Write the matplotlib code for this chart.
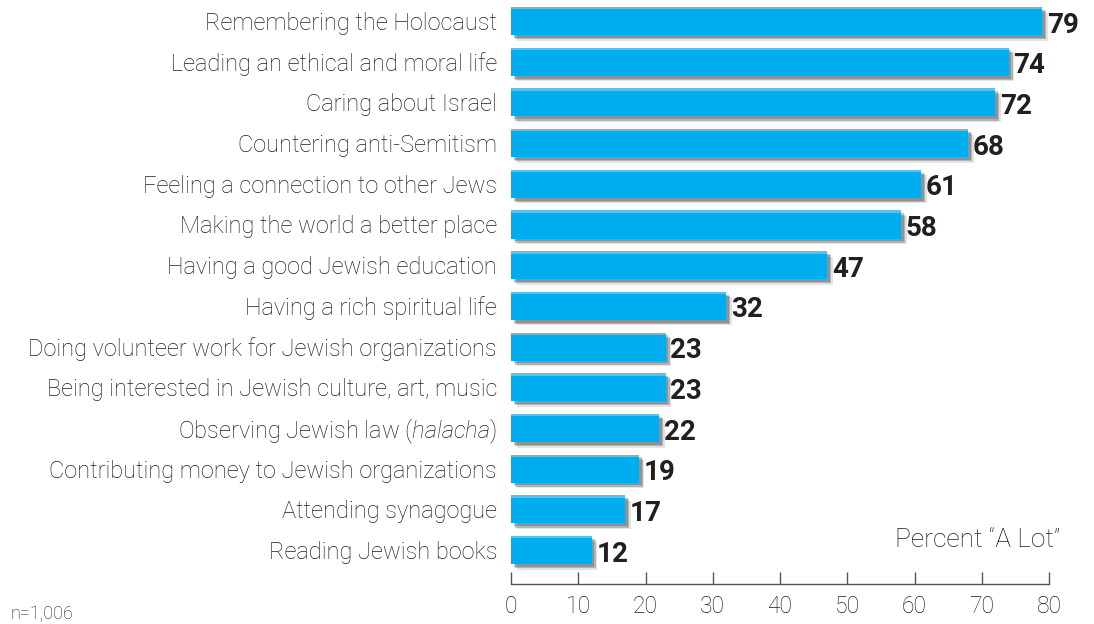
import numpy as np
import matplotlib.pyplot as plt
import matplotlib.patheffects as pe

plt.rcParams['font.family'] = ['Roboto', 'DejaVu Sans']
plt.rcParams['mathtext.fontset'] = 'custom'
plt.rcParams['mathtext.rm'] = 'Roboto:light'
plt.rcParams['mathtext.it'] = 'Roboto:italic:light'

labels = ["Remembering the Holocaust",
          "Leading an ethical and moral life",
          "Caring about Israel",
          "Countering anti-Semitism",
          "Feeling a connection to other Jews",
          "Making the world a better place",
          "Having a good Jewish education",
          "Having a rich spiritual life",
          "Doing volunteer work for Jewish organizations",
          "Being interested in Jewish culture, art, music",
          "Observing Jewish law ($\\mathit{halacha}$)",
          "Contributing money to Jewish organizations",
          "Attending synagogue",
          "Reading Jewish books"]
values = [79, 74, 72, 68, 61, 58, 47, 32, 23, 23, 22, 19, 17, 12]
xticks = [0, 10, 20, 30, 40, 50, 60, 70, 80]

blue = '#00aeef'
text_col = '#1e1e1e'

fig = plt.figure(figsize=(10.94, 6.24), dpi=100)
ax = fig.add_axes([511 / 1094, 40 / 624, 538 / 1094, 584 / 624])

y = np.arange(len(values))
bars = ax.barh(y, values, height=0.69, color=blue, zorder=3)
for b in bars:
    b.set_path_effects([pe.SimplePatchShadow(offset=(4, -4), shadow_rgbFace='#444444', alpha=0.15),
                        pe.SimplePatchShadow(offset=(3, -3), shadow_rgbFace='#444444', alpha=0.3),
                        pe.SimplePatchShadow(offset=(2, -2), shadow_rgbFace='#444444', alpha=0.3),
                        pe.Normal()])
# faint highlight along top edge of each bar
ax.barh(y - 0.69 / 2 + 0.03, values, height=0.06, color='#4cc6f4', zorder=4)

for yi, v in zip(y, values):
    ax.text(v + 0.7, yi + 0.1, str(v), va='center', ha='left', fontsize=20,
            fontweight='bold', color='#231f20', zorder=5)

ax.set_xlim(0, 80)
ax.set_ylim(13.835, -0.516)
ax.set_yticks(y)
ax.set_yticklabels(labels, fontsize=17, fontweight='light', color=text_col)
ax.tick_params(axis='y', length=0, pad=10)
ax.set_xticks(xticks)
ax.set_xticklabels([str(t) for t in xticks], fontsize=16.5, fontweight='light', color=text_col)
ax.tick_params(axis='x', direction='in', length=9, width=1, color='#555555', pad=8)

for s in ['top', 'right', 'left']:
    ax.spines[s].set_visible(False)
ax.spines['bottom'].set_color('#555555')
ax.spines['bottom'].set_linewidth(1)

ax.text(81.6, 12.75, "Percent \u201cA Lot\u201d", ha='right', va='center',
        fontsize=19, fontweight='light', color=text_col)
fig.text(10 / 1094, 1 - 614 / 624, "n=1,006", ha='left', va='center',
         fontsize=13, fontweight='light', color=text_col)

fig.savefig('out.png', dpi=100)
